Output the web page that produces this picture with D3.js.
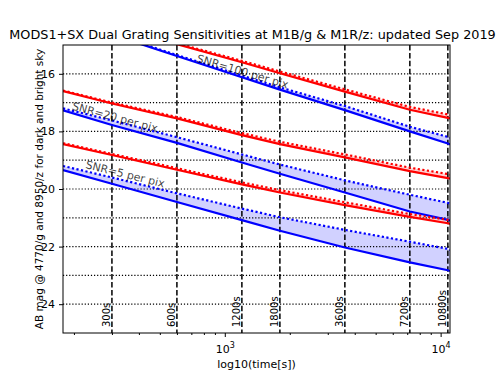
<!DOCTYPE html>
<html>
<head>
<meta charset="utf-8">
<script src="https://cdn.jsdelivr.net/npm/d3@7"></script>
<style>
  html, body { margin: 0; padding: 0; background: #fff; }
  svg { display: block; font-family: "DejaVu Sans", sans-serif; }
</style>
</head>
<body>
<svg id="chart" width="500" height="375"></svg>
<script>
// ---- data ----
const times = [178, 300, 600, 1200, 1800, 3600, 7200, 10800, 11050];

// SNR = 100 per pix
const blue100Dark   = [14.07, 14.64, 15.38, 16.12, 16.55, 17.26, 18.00, 18.42, 18.45];
const blue100Bright = [14.05, 14.62, 15.35, 16.06, 16.47, 17.12, 17.84, 18.19, 18.22];
const red100Dark    = [13.86, 14.34, 14.97, 15.60, 15.98, 16.62, 17.25, 17.53, 17.55];
const red100Bright  = [13.85, 14.32, 14.94, 15.55, 15.92, 16.54, 17.15, 17.41, 17.43];

// SNR = 20 per pix
const blue20Dark    = [17.27, 17.78, 18.40, 19.08, 19.47, 20.12, 20.78, 21.07, 21.10];
const blue20Bright  = [17.20, 17.62, 18.20, 18.80, 19.15, 19.70, 20.20, 20.48, 20.51];
const red20Dark     = [16.60, 17.03, 17.55, 18.13, 18.44, 18.90, 19.38, 19.62, 19.64];
const red20Bright   = [16.58, 17.00, 17.50, 18.06, 18.36, 18.80, 19.26, 19.48, 19.50];

// SNR = 5 per pix
const blue5Dark     = [19.34, 19.82, 20.45, 21.08, 21.45, 22.03, 22.55, 22.82, 22.85];
const blue5Bright   = [19.20, 19.60, 20.15, 20.68, 20.98, 21.42, 21.83, 22.08, 22.12];
const red5Dark      = [18.44, 18.82, 19.33, 19.84, 20.12, 20.56, 20.97, 21.19, 21.21];
const red5Bright    = [18.41, 18.78, 19.28, 19.77, 20.04, 20.46, 20.87, 21.07, 21.09];

const markTimes  = [300, 600, 1200, 1800, 3600, 7200, 10800];
const markLabels = ["300s", "600s", "1200s", "1800s", "3600s", "7200s", "10800s"];
const gridMags   = [16, 17, 18, 19, 20, 21, 22, 23, 24];
const yTickVals  = [16, 18, 20, 22, 24];
const xMajor     = [1000, 10000];
const xMinor     = [200, 300, 400, 500, 600, 700, 800, 900, 2000, 3000, 4000, 5000, 6000, 7000, 8000, 9000];
const snrLabels  = ["SNR=100 per pix", "SNR=20 per pix", "SNR=5 per pix"];
const snrLabelTimes = [736, 195, 225];
const snrLabelMags  = [15.58, 17.24, 19.27];

const titleText = "MODS1+SX Dual Grating Sensitivities at M1B/g & M1R/z: updated Sep 2019";
const xLabel = "log10(time[s])";
const yLabel = "AB mag @ 4770/g and 8950/z for dark and bright sky";

// ---- layout ----
const L = 63, R = 450, T = 45, B = 333;
const snrAngles = [16.5, 15, 14];
const svg = d3.select("#chart");
const x = d3.scaleLog().domain([178, 11050]).range([L, R]);
const y = d3.scaleLinear().domain([15, 25]).range([T, B]);

svg.append("defs").append("clipPath").attr("id", "plotclip")
  .append("rect").attr("x", L).attr("y", T).attr("width", R - L).attr("height", B - T);

const plot = svg.append("g").attr("clip-path", "url(#plotclip)");

const groups = [
  { dark: blue100Dark, bright: blue100Bright, color: "blue" },
  { dark: red100Dark,  bright: red100Bright,  color: "red" },
  { dark: blue20Dark,  bright: blue20Bright,  color: "blue" },
  { dark: red20Dark,   bright: red20Bright,   color: "red" },
  { dark: blue5Dark,   bright: blue5Bright,   color: "blue" },
  { dark: red5Dark,    bright: red5Bright,    color: "red" }
];

const area = d3.area()
  .x((d, i) => x(times[i]))
  .y0(d => y(d[0]))
  .y1(d => y(d[1]));
const line = d3.line()
  .x((d, i) => x(times[i]))
  .y(d => y(d));

// fills
groups.forEach(g => {
  plot.append("path")
    .datum(g.dark.map((v, i) => [v, g.bright[i]]))
    .attr("d", area)
    .attr("fill", g.color)
    .attr("fill-opacity", 0.18)
    .attr("stroke", "none");
});

// horizontal dotted grid
plot.selectAll("line.hgrid").data(gridMags).enter().append("line")
  .attr("class", "hgrid")
  .attr("x1", L).attr("x2", R)
  .attr("y1", d => y(d)).attr("y2", d => y(d))
  .attr("stroke", "#000").attr("stroke-width", 1.2)
  .attr("stroke-dasharray", "1.2,1.9");

// vertical dashed lines
plot.selectAll("line.vmark").data(markTimes).enter().append("line")
  .attr("class", "vmark")
  .attr("x1", d => x(d)).attr("x2", d => x(d))
  .attr("y1", T).attr("y2", B)
  .attr("stroke", "#000").attr("stroke-width", 1.5)
  .attr("stroke-dasharray", "5.5,2.4");

// data lines
groups.forEach(g => {
  plot.append("path").datum(g.bright).attr("d", line)
    .attr("fill", "none").attr("stroke", g.color)
    .attr("stroke-width", 2.2).attr("stroke-dasharray", "2.2,2.4");
  plot.append("path").datum(g.dark).attr("d", line)
    .attr("fill", "none").attr("stroke", g.color)
    .attr("stroke-width", 2.2);
});

// vertical marker labels
svg.selectAll("text.vlab").data(markTimes).enter().append("text")
  .attr("class", "vlab")
  .attr("transform", d => `translate(${x(d) - 2},${327}) rotate(-90)`)
  .attr("font-size", 10)
  .attr("fill", "#000")
  .text((d, i) => markLabels[i]);

// SNR labels
svg.selectAll("text.snr").data(snrLabels).enter().append("text")
  .attr("class", "snr")
  .attr("transform", (d, i) => `translate(${x(snrLabelTimes[i])},${y(snrLabelMags[i])}) rotate(${snrAngles[i]})`)
  .attr("font-size", 11)
  .attr("fill", "#000").attr("fill-opacity", 0.75)
  .text(d => d);

// frame
svg.append("rect").attr("x", L).attr("y", T).attr("width", R - L).attr("height", B - T)
  .attr("fill", "none").attr("stroke", "#000").attr("stroke-width", 1);

// y axis
const yAxis = d3.axisLeft(y).tickValues(yTickVals).tickSize(4).tickPadding(4).tickFormat(d3.format("d"));
const gy = svg.append("g").attr("transform", `translate(${L},0)`).call(yAxis);
gy.select(".domain").remove();
gy.selectAll("text").attr("font-size", 11).attr("font-family", "DejaVu Sans").attr("fill", "#000");

// x axis: major
const xAxis = d3.axisBottom(x).tickValues(xMajor).tickSize(4).tickFormat(() => "");
const gx = svg.append("g").attr("transform", `translate(0,${B})`).call(xAxis);
gx.select(".domain").remove();
gx.selectAll(".tick").each(function(d) {
  const t = d3.select(this).append("text")
    .attr("y", 20).attr("text-anchor", "middle")
    .attr("font-size", 11).attr("font-family", "DejaVu Sans").attr("fill", "#000");
  t.append("tspan").text("10");
  t.append("tspan").attr("dy", -5).attr("font-size", 8).text(String(Math.round(Math.log10(d))));
});
// x axis: minor
const xAxisMinor = d3.axisBottom(x).tickValues(xMinor).tickSize(2).tickFormat(() => "");
const gxm = svg.append("g").attr("transform", `translate(0,${B})`).call(xAxisMinor);
gxm.select(".domain").remove();

// labels
svg.append("text").attr("x", (L + R) / 2).attr("y", 368)
  .attr("text-anchor", "middle").attr("font-size", 11).text(xLabel);
svg.append("text").attr("transform", `translate(43,${(T + B) / 2}) rotate(-90)`)
  .attr("text-anchor", "middle").attr("font-size", 10.5).text(yLabel);
svg.append("text").attr("x", 252.5).attr("y", 39)
  .attr("text-anchor", "middle").attr("font-size", 12.8).text(titleText);
</script>
</body>
</html>
